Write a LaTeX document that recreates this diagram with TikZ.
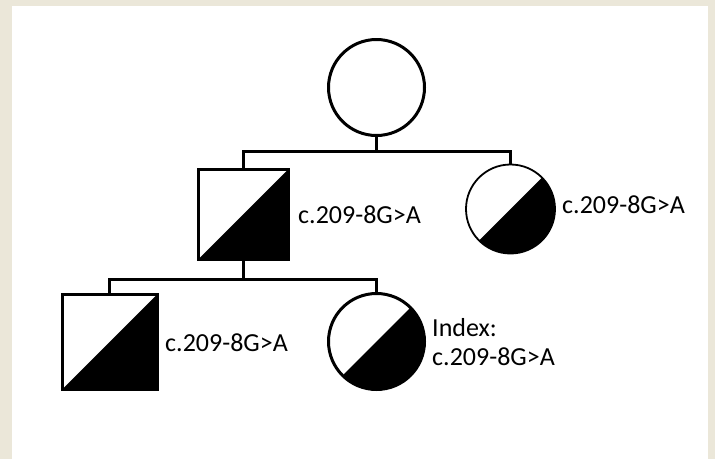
\documentclass[tikz,border=0pt]{standalone}
\usepackage{fontspec}
\setmainfont{Carlito}
\definecolor{bg}{RGB}{235,231,217}
\tikzset{
  person/.style={draw=black, line width=3pt, fill=white, inner sep=0pt},
  fem/.style={person, circle},
  male/.style={person, rectangle},
  halffill/.style={path picture={\fill[black] (path picture bounding box.south west) -- (path picture bounding box.north east) -- (path picture bounding box.south east) -- cycle;}},
  lbl/.style={font=\fontsize{26}{29}\selectfont, inner sep=0pt, anchor=west, align=left},
  link/.style={line width=3pt, line cap=rect},
}
\begin{document}
\begin{tikzpicture}[x=1pt,y=-1pt]
\useasboundingbox (0,0) rectangle (715,459);
\fill[bg] (0,0) rectangle (715,459);
\fill[white] (12,6) rectangle (708,459);
% persons
\node[fem, minimum size=96pt] (gm) at (376.5,87.5) {};
\node[male, halffill, minimum size=90pt] (f) at (243,214.5) {};
\node[fem, halffill, line width=1.8pt, minimum size=89pt] (aunt) at (510.5,209) {};
\node[male, halffill, minimum size=95pt] (bro) at (109.5,342) {};
\node[fem, halffill, minimum size=96pt] (idx) at (376.5,341.5) {};
% sibship lines
\coordinate (b1) at (376.5,151.5);
\coordinate (b2) at (243,279);
\draw[link] (gm.south) -- (b1);
\draw[link] (f.north) |- (aunt.north |- b1) -- (aunt.north);
\draw[link] (f.south) -- (b2);
\draw[link] (bro.north) |- (idx.north |- b2) -- (idx.north);
% labels
\node[lbl] (tf) at (298,215) {c.209-8G>A};
\node[lbl] (ta) at (562,205) {c.209-8G>A};
\node[lbl] (tb) at (165,343) {c.209-8G>A};
\node[lbl] (ti) at (432,342) {Index:\\c.209-8G>A};
\end{tikzpicture}
\end{document}
